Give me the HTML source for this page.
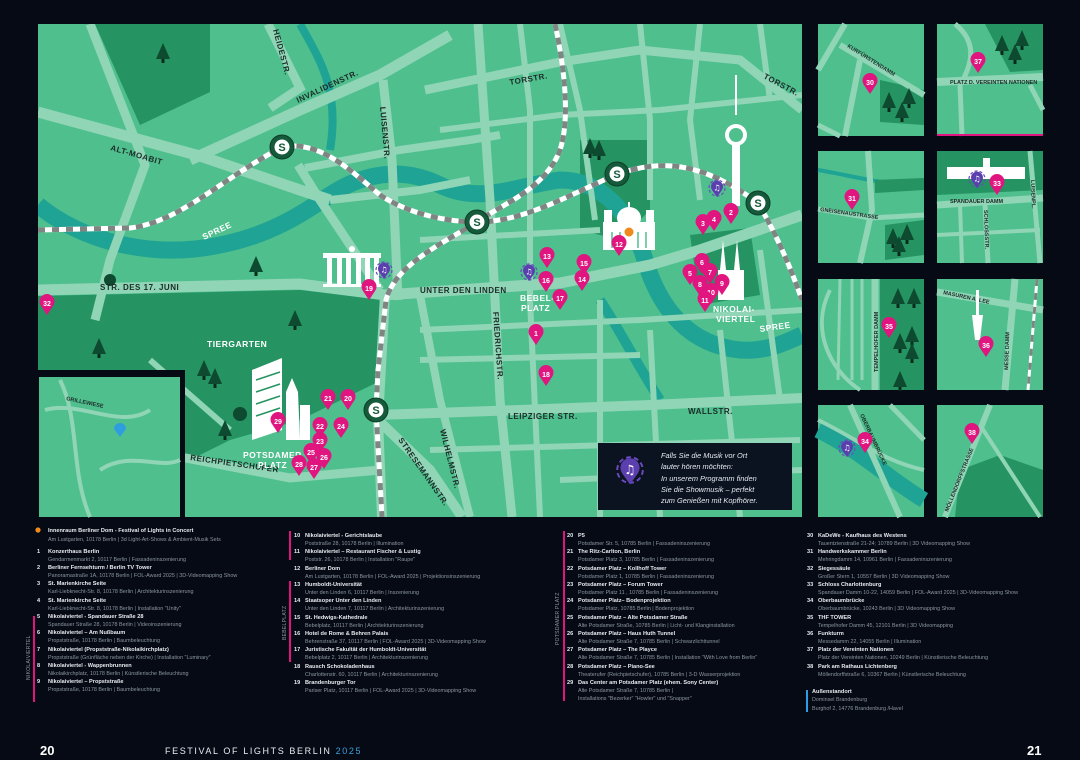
<!DOCTYPE html>
<html><head><meta charset="utf-8">
<style>
html,body{margin:0;padding:0;background:#060a14;}
svg{display:block;}
.lb{font-family:"Liberation Sans",sans-serif;font-weight:bold;font-size:8px;fill:#1d2b28;letter-spacing:0.5px;}
.wl{font-family:"Liberation Sans",sans-serif;font-weight:bold;font-size:8.5px;fill:#fff;letter-spacing:0.5px;}
.sl{font-family:"Liberation Sans",sans-serif;font-weight:bold;font-size:5.5px;fill:#1d2b28;}
.pn{font-family:"Liberation Sans",sans-serif;font-weight:bold;font-size:7px;fill:#fff;text-anchor:middle;}
.t{font-family:"Liberation Sans",sans-serif;font-weight:bold;font-size:5.6px;fill:#e8ecf0;}
.a{font-family:"Liberation Sans",sans-serif;font-size:5.4px;fill:#8c96a0;}
.vl{font-family:"Liberation Sans",sans-serif;font-size:5px;fill:#8c96a0;letter-spacing:0.3px;}
</style></head><body>
<svg width="1080" height="760" viewBox="0 0 1080 760" xmlns="http://www.w3.org/2000/svg">
<defs>
<clipPath id="cm"><rect x="38" y="24" width="764" height="493"/></clipPath>
<g id="pin"><path d="M0,12 L-6,3 A7.5,7.5 0 1,1 6,3 Z" fill="#e0157f"/></g>
<g id="mp"><circle r="8" fill="none" stroke="#6a4cc0" stroke-width="1.2" stroke-dasharray="3,2"/><path d="M0,9 L-5,2 A6,6 0 1,1 5,2 Z" fill="#5b3fae"/><text y="2.5" font-size="8" fill="#fff" text-anchor="middle" font-family="DejaVu Sans">♫</text></g>
<g id="tr"><polygon points="0,-12 -7,4 7,4" fill="#0d4a30"/><rect x="-1.5" y="4" width="3" height="4" fill="#0a2a1c"/></g>
<g id="sb"><circle r="12" fill="#155a3a" stroke="#0e3d28" stroke-width="1"/><circle r="7.5" fill="#fff"/><text y="4" font-size="11" font-weight="bold" fill="#155a3a" text-anchor="middle" font-family="Liberation Sans">S</text></g>
</defs>

<g clip-path="url(#cm)">
<rect x="38" y="24" width="764" height="493" fill="#4fbf8e"/>
<polygon points="95,24 210,24 210,92 140,125" fill="#259462"/>
<polygon points="38,296 300,290 385,300 382,380 300,420 230,440 180,465 38,440" fill="#259462"/>
<polygon points="580,140 650,140 650,210 620,240 580,230" fill="#259462"/>
<polygon points="690,235 750,228 760,295 700,305" fill="#259462"/>
<path d="M38,205 C80,240 150,260 220,245 C270,235 300,215 330,195 C360,175 400,165 440,185 C480,205 520,185 560,180 C600,180 630,210 645,260 C660,310 690,345 740,350 C770,352 790,340 802,335" fill="none" stroke="#1fa394" stroke-width="17"/>
<path d="M300,24 C320,60 340,90 330,150" fill="none" stroke="#1fa394" stroke-width="8"/>
<path d="M600,300 C620,330 640,370 660,400" fill="none" stroke="#1fa394" stroke-width="10"/>
<g fill="none" stroke="#8fd5b6" stroke-linecap="butt">
<path d="M38,112 L200,156 L300,190 L330,200" stroke-width="11"/>
<path d="M190,160 L300,110 L380,75 L450,35" stroke-width="11"/>
<path d="M268,24 L300,88 L270,108" stroke-width="9"/>
<path d="M90,24 L145,165 L110,260 L95,320" stroke-width="9"/>
<path d="M383,80 L392,160 L398,300" stroke-width="9"/>
<path d="M298,165 L320,200 L380,290" stroke-width="9"/>
<path d="M305,168 L400,150 L470,140 L500,135" stroke-width="8"/>
<path d="M330,200 L420,190 L470,180" stroke-width="8"/>
<path d="M425,90 L560,62 L640,50 L740,60 L802,110" stroke-width="9"/>
<path d="M38,290 L300,284 L385,295" stroke-width="11"/>
<path d="M385,295 L560,283 L650,265 L700,250 L802,215" stroke-width="11"/>
<path d="M478,24 L490,200 L500,400 L512,517" stroke-width="9"/>
<path d="M420,295 L440,400 L470,517" stroke-width="8"/>
<path d="M385,295 L378,420 L382,517" stroke-width="10"/>
<path d="M378,420 L430,470 L462,517" stroke-width="10"/>
<path d="M378,415 L520,410 L650,405 L802,398" stroke-width="10"/>
<path d="M170,455 L290,478 L380,470" stroke-width="9"/>
<path d="M38,440 L180,455" stroke-width="7"/>
<path d="M520,24 L530,110 L530,300 L540,517" stroke-width="6"/>
<path d="M560,24 L580,110 L595,220" stroke-width="6"/>
<path d="M640,24 L650,120 L650,200" stroke-width="6"/>
<path d="M700,24 L690,120 L700,200" stroke-width="6"/>
<path d="M760,24 L770,100" stroke-width="6"/>
<path d="M440,130 L560,115 L660,110 L802,95" stroke-width="6"/>
<path d="M420,240 L600,230" stroke-width="6"/>
<path d="M420,330 L640,320 L802,310" stroke-width="6"/>
<path d="M420,360 L640,355" stroke-width="6"/>
<path d="M430,450 L800,440" stroke-width="6"/>
<path d="M560,480 L802,470" stroke-width="6"/>
<path d="M600,300 L600,517" stroke-width="6"/>
<path d="M650,330 L660,517" stroke-width="6"/>
<path d="M720,330 L740,517" stroke-width="6"/>
<path d="M760,250 L780,400" stroke-width="6"/>
<path d="M150,360 L230,430" stroke-width="6"/>
</g>
<g fill="none" stroke-width="5">
<path d="M38,230 L130,228 C180,222 220,180 282,147 C320,140 350,170 380,195 C410,215 450,222 477,222 C520,222 560,200 617,174 C660,160 700,160 758,203 C780,240 795,280 802,300" stroke="#fff"/>
<path d="M38,230 L130,228 C180,222 220,180 282,147 C320,140 350,170 380,195 C410,215 450,222 477,222 C520,222 560,200 617,174 C660,160 700,160 758,203 C780,240 795,280 802,300" stroke="#7f8582" stroke-dasharray="7,7"/>
<path d="M555,24 C565,70 570,120 560,150 C545,190 500,205 477,222 C440,245 395,265 386,300 L378,370 L376,410 L382,517" stroke="#fff"/>
<path d="M555,24 C565,70 570,120 560,150 C545,190 500,205 477,222 C440,245 395,265 386,300 L378,370 L376,410 L382,517" stroke="#7f8582" stroke-dasharray="7,7"/>
</g>
<use href="#tr" x="163" y="55"/><use href="#tr" x="256" y="268"/><use href="#tr" x="295" y="322"/><use href="#tr" x="99" y="350"/>
<use href="#tr" x="204" y="372"/><use href="#tr" x="215" y="380"/><use href="#tr" x="225" y="432"/>
<use href="#tr" x="590" y="150"/><use href="#tr" x="599" y="152"/>
<circle cx="110" cy="280" r="6" fill="#0d4a30"/><circle cx="240" cy="414" r="7" fill="#0d4a30"/>
<g fill="#fff"><rect x="323" y="253" width="58" height="5"/><rect x="327" y="258" width="5" height="26"/><rect x="337" y="258" width="5" height="26"/><rect x="346" y="258" width="5" height="26"/><rect x="356" y="258" width="5" height="26"/><rect x="365" y="258" width="5" height="26"/><rect x="374" y="258" width="5" height="26"/><rect x="323" y="284" width="58" height="3"/><circle cx="352" cy="249" r="3"/></g>
<g fill="#fff"><polygon points="252,370 282,358 282,430 252,440"/><polygon points="286,392 292,378 298,392 300,440 286,440"/><rect x="300" y="405" width="10" height="35"/></g>
<g stroke="#259462" stroke-width="1.5"><line x1="256" y1="380" x2="280" y2="372"/><line x1="256" y1="392" x2="280" y2="384"/><line x1="256" y1="404" x2="280" y2="396"/><line x1="256" y1="416" x2="280" y2="408"/></g>
<g fill="#fff"><rect x="603" y="222" width="52" height="28"/><ellipse cx="629" cy="218" rx="12" ry="11"/><rect x="604" y="210" width="8" height="14"/><rect x="646" y="210" width="8" height="14"/><rect x="628" y="202" width="2" height="6"/></g>
<g stroke="#4fbf8e" stroke-width="1.5"><line x1="612" y1="232" x2="612" y2="248"/><line x1="620" y1="232" x2="620" y2="248"/><line x1="638" y1="232" x2="638" y2="248"/><line x1="646" y1="232" x2="646" y2="248"/></g>
<circle cx="629" cy="232" r="4.5" fill="#f08a1c"/>
<g fill="#fff"><rect x="735" y="75" width="2" height="40"/><circle cx="736" cy="135" r="11"/><rect x="732" y="140" width="8" height="66"/></g>
<circle cx="736" cy="135" r="7" fill="#4fbf8e"/>
<g fill="#fff"><polygon points="723,240 726,270 720,270"/><polygon points="737,240 740,270 734,270"/><rect x="718" y="270" width="26" height="30"/></g>
<use href="#sb" x="282" y="147"/><use href="#sb" x="477" y="222"/><use href="#sb" x="617" y="174"/><use href="#sb" x="758" y="203"/><use href="#sb" x="376" y="410"/>
<text class="lb" transform="translate(110,150) rotate(16)">ALT-MOABIT</text>
<text class="lb" transform="translate(298,103) rotate(-25)">INVALIDENSTR.</text>
<text class="lb" transform="translate(273,30) rotate(75)">HEIDESTR.</text>
<text class="lb" transform="translate(380,107) rotate(85)">LUISENSTR.</text>
<text class="lb" transform="translate(510,85) rotate(-10)">TORSTR.</text>
<text class="lb" transform="translate(763,78) rotate(28)">TORSTR.</text>
<text class="lb" x="100" y="290">STR. DES 17. JUNI</text>
<text class="lb" x="420" y="293">UNTER DEN LINDEN</text>
<text class="lb" transform="translate(493,312) rotate(86)">FRIEDRICHSTR.</text>
<text class="lb" x="508" y="419">LEIPZIGER STR.</text>
<text class="lb" x="688" y="414">WALLSTR.</text>
<text class="lb" transform="translate(440,430) rotate(76)">WILHELMSTR.</text>
<text class="lb" transform="translate(398,440) rotate(55)">STRESEMANNSTR.</text>
<text class="lb" transform="translate(190,460) rotate(8)">REICHPIETSCHUFER</text>
<text class="wl" transform="translate(204,240) rotate(-25)" font-size="7">SPREE</text>
<text class="wl" transform="translate(760,332) rotate(-8)" font-size="7">SPREE</text>
<text class="wl" x="207" y="347">TIERGARTEN</text>
<text class="wl" x="243" y="458">POTSDAMER</text><text class="wl" x="258" y="468">PLATZ</text>
<text class="wl" x="520" y="301">BEBEL-</text><text class="wl" x="521" y="311">PLATZ</text>
<text class="wl" x="713" y="312">NIKOLAI-</text><text class="wl" x="716" y="322">VIERTEL</text>
<use href="#mp" x="384" y="270"/><use href="#mp" x="529" y="272"/><use href="#mp" x="717" y="188"/>
</g>
<rect x="36" y="370" width="149" height="149" fill="#060a14"/>
<rect x="39" y="377" width="141" height="140" fill="#4fbf8e"/>
<path d="M45,410 C80,400 120,430 150,410" stroke="#8fd5b6" stroke-width="4" fill="none"/>
<path d="M60,380 C80,420 70,470 90,517" stroke="#8fd5b6" stroke-width="4" fill="none"/>
<path d="M100,470 C130,450 160,470 180,460" stroke="#8fd5b6" stroke-width="4" fill="none"/>
<text class="sl" transform="translate(66,400) rotate(12)">GRILLEWIESE</text>
<path d="M120,437 L114,429 A6,6 0 1,1 126,429 Z" fill="#2e9ee0"/>
<rect x="598" y="443" width="194" height="67" fill="#0b1220"/>
<g transform="translate(630,470) scale(1.6)"><use href="#mp"/></g>
<g font-family="Liberation Sans" font-style="italic" font-size="7.4" fill="#e6ebf0">
<text x="661" y="458">Falls Sie die Musik vor Ort</text>
<text x="661" y="469">lauter hören möchten:</text>
<text x="661" y="481">In unserem Programm finden</text>
<text x="661" y="492">Sie die Showmusik – perfekt</text>
<text x="661" y="503">zum Genießen mit Kopfhörer.</text></g>

<g>
<rect x="818" y="24" width="106" height="112" fill="#4fbf8e"/>
<polygon points="880,80 924,90 924,125 880,122" fill="#259462"/>
<path d="M818,70 L845,24" stroke="#8fd5b6" stroke-width="6"/><path d="M840,45 L924,95" stroke="#8fd5b6" stroke-width="6"/><path d="M860,60 L845,136" stroke="#8fd5b6" stroke-width="6"/><path d="M818,125 L840,136" stroke="#8fd5b6" stroke-width="5"/>
<text class="sl" transform="translate(847,47) rotate(32)">KURFÜRSTENDAMM</text>
<use href="#tr" x="889" y="104"/><use href="#tr" x="909" y="100"/><use href="#tr" x="902" y="114"/>
<rect x="937" y="24" width="106" height="112" fill="#4fbf8e"/>
<polygon points="985,24 1043,24 1043,70 1010,72" fill="#259462"/>
<path d="M937,82 L1043,77" stroke="#8fd5b6" stroke-width="8"/><path d="M955,24 C975,40 975,60 960,85 L962,136" stroke="#8fd5b6" stroke-width="5" fill="none"/><path d="M1030,85 L1043,110" stroke="#8fd5b6" stroke-width="5"/>
<text class="sl" x="950" y="84">PLATZ D. VEREINTEN NATIONEN</text>
<use href="#tr" x="1002" y="47"/><use href="#tr" x="1022" y="42"/><use href="#tr" x="1015" y="56"/>
<rect x="937" y="134" width="106" height="2" fill="#e0157f"/>
<rect x="818" y="151" width="106" height="112" fill="#4fbf8e"/>
<path d="M818,170 C850,175 880,185 924,185" stroke="#1fa394" stroke-width="4" fill="none"/>
<polygon points="875,180 924,178 924,190 875,193" fill="#259462"/>
<polygon points="885,225 924,220 924,255 885,260" fill="#259462"/>
<path d="M868,151 L872,210 L860,263" stroke="#8fd5b6" stroke-width="6" fill="none"/><path d="M818,209 L870,218 L924,215" stroke="#8fd5b6" stroke-width="5" fill="none"/>
<text class="sl" transform="translate(820,211) rotate(8)" font-size="4">GNEISENAUSTRASSE</text>
<use href="#tr" x="893" y="240"/><use href="#tr" x="907" y="236"/><use href="#tr" x="899" y="248"/>
<rect x="937" y="151" width="106" height="112" fill="#4fbf8e"/>
<polygon points="937,151 1043,151 1043,190 937,195" fill="#259462"/>
<path d="M937,205 L1043,198" stroke="#8fd5b6" stroke-width="7"/><path d="M1030,151 L1040,263" stroke="#8fd5b6" stroke-width="5"/><path d="M985,205 L988,263" stroke="#8fd5b6" stroke-width="5"/><path d="M937,235 L1040,230" stroke="#8fd5b6" stroke-width="4"/><path d="M960,205 L962,263" stroke="#8fd5b6" stroke-width="4"/>
<g fill="#fff"><rect x="947" y="167" width="78" height="12"/><rect x="983" y="158" width="7" height="12"/></g>
<text class="sl" x="950" y="203">SPANDAUER DAMM</text>
<text class="sl" transform="translate(984,210) rotate(88)">SCHLOSSSTR.</text>
<text class="sl" transform="translate(1031,180) rotate(88)">LUISENPL.</text>
<rect x="818" y="279" width="106" height="111" fill="#4fbf8e"/>
<rect x="880" y="279" width="44" height="111" fill="#259462"/>
<path d="M875,279 L875,390" stroke="#8fd5b6" stroke-width="7"/><path d="M840,279 L838,380 M852,279 L852,380 M862,279 L862,380" stroke="#8fd5b6" stroke-width="3"/><path d="M830,290 C810,330 830,370 860,390" stroke="#8fd5b6" stroke-width="4" fill="none"/>
<text class="sl" transform="translate(878,372) rotate(-90)">TEMPELHOFER DAMM</text>
<use href="#tr" x="898" y="300"/><use href="#tr" x="914" y="300"/><use href="#tr" x="912" y="338"/><use href="#tr" x="900" y="345"/><use href="#tr" x="912" y="355"/><use href="#tr" x="900" y="383"/>
<rect x="937" y="279" width="106" height="111" fill="#4fbf8e"/>
<path d="M937,292 L1043,310" stroke="#8fd5b6" stroke-width="7"/><path d="M1015,279 L1005,390" stroke="#8fd5b6" stroke-width="7"/>
<path d="M1037,279 L1028,390" stroke="#fff" stroke-width="3"/><path d="M1037,279 L1028,390" stroke="#7f8582" stroke-width="3" stroke-dasharray="7,7"/>
<text class="sl" transform="translate(943,294) rotate(12)">MASUREN ALLEE</text>
<text class="sl" transform="translate(1008,370) rotate(-88)">MESSE DAMM</text>
<g fill="#fff"><rect x="976" y="290" width="3" height="25"/><polygon points="972,315 983,315 980,340 975,340"/></g>
<rect x="818" y="405" width="106" height="112" fill="#4fbf8e"/>
<path d="M818,430 C860,450 890,480 924,500" stroke="#1fa394" stroke-width="16" fill="none"/>
<path d="M818,420 C860,440 880,460 924,470" stroke="#8fd5b6" stroke-width="4" fill="none"/>
<path d="M850,405 L900,517" stroke="#8fd5b6" stroke-width="6"/><path d="M890,405 L924,440" stroke="#8fd5b6" stroke-width="5"/>
<text class="sl" transform="translate(860,415) rotate(65)">OBERBAUMBRÜCKE</text>
<rect x="937" y="405" width="106" height="112" fill="#4fbf8e"/>
<polygon points="960,470 1000,455 1043,470 1043,517 955,517" fill="#259462"/>
<path d="M990,405 L945,517" stroke="#8fd5b6" stroke-width="6"/><path d="M980,425 L1040,517" stroke="#8fd5b6" stroke-width="4"/>
<text class="sl" transform="translate(948,512) rotate(-68)" font-size="4">MÖLLENDORFFSTRASSE</text>
<use href="#mp" x="847" y="448"/><use href="#mp" x="977" y="179"/>
</g>

<g>
<use href="#pin" x="536" y="333"/><text class="pn" x="536" y="336">1</text>
<use href="#pin" x="731" y="212"/><text class="pn" x="731" y="215">2</text>
<use href="#pin" x="703" y="223"/><text class="pn" x="703" y="226">3</text>
<use href="#pin" x="714" y="219"/><text class="pn" x="714" y="222">4</text>
<use href="#pin" x="690" y="273"/><text class="pn" x="690" y="276">5</text>
<use href="#pin" x="702" y="262"/><text class="pn" x="702" y="265">6</text>
<use href="#pin" x="710" y="272"/><text class="pn" x="710" y="275">7</text>
<use href="#pin" x="700" y="284"/><text class="pn" x="700" y="287">8</text>
<use href="#pin" x="722" y="283"/><text class="pn" x="722" y="286">9</text>
<use href="#pin" x="711" y="292"/><text class="pn" x="711" y="295">10</text>
<use href="#pin" x="705" y="300"/><text class="pn" x="705" y="303">11</text>
<use href="#pin" x="619" y="244"/><text class="pn" x="619" y="247">12</text>
<use href="#pin" x="547" y="256"/><text class="pn" x="547" y="259">13</text>
<use href="#pin" x="582" y="279"/><text class="pn" x="582" y="282">14</text>
<use href="#pin" x="584" y="263"/><text class="pn" x="584" y="266">15</text>
<use href="#pin" x="546" y="280"/><text class="pn" x="546" y="283">16</text>
<use href="#pin" x="560" y="298"/><text class="pn" x="560" y="301">17</text>
<use href="#pin" x="546" y="374"/><text class="pn" x="546" y="377">18</text>
<use href="#pin" x="369" y="288"/><text class="pn" x="369" y="291">19</text>
<use href="#pin" x="348" y="398"/><text class="pn" x="348" y="401">20</text>
<use href="#pin" x="328" y="398"/><text class="pn" x="328" y="401">21</text>
<use href="#pin" x="320" y="426"/><text class="pn" x="320" y="429">22</text>
<use href="#pin" x="320" y="441"/><text class="pn" x="320" y="444">23</text>
<use href="#pin" x="341" y="426"/><text class="pn" x="341" y="429">24</text>
<use href="#pin" x="311" y="452"/><text class="pn" x="311" y="455">25</text>
<use href="#pin" x="324" y="457"/><text class="pn" x="324" y="460">26</text>
<use href="#pin" x="314" y="467"/><text class="pn" x="314" y="470">27</text>
<use href="#pin" x="299" y="464"/><text class="pn" x="299" y="467">28</text>
<use href="#pin" x="278" y="421"/><text class="pn" x="278" y="424">29</text>
<use href="#pin" x="870" y="82"/><text class="pn" x="870" y="85">30</text>
<use href="#pin" x="852" y="198"/><text class="pn" x="852" y="201">31</text>
<use href="#pin" x="47" y="303"/><text class="pn" x="47" y="306">32</text>
<use href="#pin" x="997" y="183"/><text class="pn" x="997" y="186">33</text>
<use href="#pin" x="865" y="441"/><text class="pn" x="865" y="444">34</text>
<use href="#pin" x="889" y="326"/><text class="pn" x="889" y="329">35</text>
<use href="#pin" x="986" y="345"/><text class="pn" x="986" y="348">36</text>
<use href="#pin" x="978" y="61"/><text class="pn" x="978" y="64">37</text>
<use href="#pin" x="972" y="432"/><text class="pn" x="972" y="435">38</text>
</g>

<rect x="33" y="616" width="2" height="86" fill="#e0157f"/>
<text class="vl" transform="translate(30,680) rotate(-90)">NIKOLAIVIERTEL</text>
<rect x="289" y="531" width="2" height="29" fill="#e0157f"/>
<rect x="289" y="581" width="2" height="81" fill="#e0157f"/>
<text class="vl" transform="translate(286,640) rotate(-90)">BEBELPLATZ</text>
<rect x="563" y="531" width="2" height="170" fill="#e0157f"/>
<text class="vl" transform="translate(559,645) rotate(-90)">POTSDAMER PLATZ</text>
<rect x="806" y="690" width="2" height="22" fill="#2e9ee0"/>
<circle cx="38" cy="530" r="2.6" fill="#f08a1c"/>
<g>
<text class="t" x="48" y="532">Innenraum Berliner Dom - Festival of Lights in Concert</text><text class="a" x="48" y="541">Am Lustgarten, 10178 Berlin | 3d Light-Art-Shows &amp; Ambient-Musik Sets</text>
<text class="t" x="37" y="553">1</text><text class="t" x="48" y="553">Konzerthaus Berlin</text><text class="a" x="48" y="561">Gendarmenmarkt 2, 10117 Berlin | Fassadeninszenierung</text>
<text class="t" x="37" y="569">2</text><text class="t" x="48" y="569">Berliner Fernsehturm / Berlin TV Tower</text><text class="a" x="48" y="577">Panoramastraße 1A, 10178 Berlin | FOL-Award 2025 | 3D-Videomapping Show</text>
<text class="t" x="37" y="585">3</text><text class="t" x="48" y="585">St. Marienkirche Seite</text><text class="a" x="48" y="593">Karl-Liebknecht-Str. 8, 10178 Berlin | Architekturinszenierung</text>
<text class="t" x="37" y="602">4</text><text class="t" x="48" y="602">St. Marienkirche Seite</text><text class="a" x="48" y="610">Karl-Liebknecht-Str. 8, 10178 Berlin | Installation "Unity"</text>
<text class="t" x="37" y="618">5</text><text class="t" x="48" y="618">Nikolaiviertel - Spandauer Straße 28</text><text class="a" x="48" y="626">Spandauer Straße 28, 10178 Berlin | Videoinszenierung</text>
<text class="t" x="37" y="634">6</text><text class="t" x="48" y="634">Nikolaiviertel – Am Nußbaum</text><text class="a" x="48" y="642">Propststraße, 10178 Berlin | Baumbeleuchtung</text>
<text class="t" x="37" y="651">7</text><text class="t" x="48" y="651">Nikolaiviertel (Propststraße-Nikolaikirchplatz)</text><text class="a" x="48" y="659">Propststraße (Grünfläche neben der Kirche) | Installation "Luminary"</text>
<text class="t" x="37" y="667">8</text><text class="t" x="48" y="667">Nikolaiviertel - Wappenbrunnen</text><text class="a" x="48" y="675">Nikolaikirchplatz, 10178 Berlin | Künstlerische Beleuchtung</text>
<text class="t" x="37" y="683">9</text><text class="t" x="48" y="683">Nikolaiviertel – Propststraße</text><text class="a" x="48" y="691">Propststraße, 10178 Berlin | Baumbeleuchtung</text>
</g>
<g>
<text class="t" x="294" y="537">10</text><text class="t" x="305" y="537">Nikolaiviertel - Gerichtslaube</text><text class="a" x="305" y="545">Poststraße 28, 10178 Berlin | Illumination</text>
<text class="t" x="294" y="553">11</text><text class="t" x="305" y="553">Nikolaiviertel – Restaurant Fischer &amp; Lustig</text><text class="a" x="305" y="561">Poststr. 26, 10178 Berlin | Installation "Raupe"</text>
<text class="t" x="294" y="570">12</text><text class="t" x="305" y="570">Berliner Dom</text><text class="a" x="305" y="578">Am Lustgarten, 10178 Berlin | FOL-Award 2025 | Projektionsinszenierung</text>
<text class="t" x="294" y="586">13</text><text class="t" x="305" y="586">Humboldt-Universität</text><text class="a" x="305" y="594">Unter den Linden 6, 10117 Berlin | Inszenierung</text>
<text class="t" x="294" y="602">14</text><text class="t" x="305" y="602">Staatsoper Unter den Linden</text><text class="a" x="305" y="610">Unter den Linden 7, 10117 Berlin | Architekturinszenierung</text>
<text class="t" x="294" y="619">15</text><text class="t" x="305" y="619">St. Hedwigs-Kathedrale</text><text class="a" x="305" y="627">Bebelplatz, 10117 Berlin | Architekturinszenierung</text>
<text class="t" x="294" y="635">16</text><text class="t" x="305" y="635">Hotel de Rome &amp; Behren Palais</text><text class="a" x="305" y="643">Behrenstraße 37, 10117 Berlin | FOL-Award 2025 | 3D-Videomapping Show</text>
<text class="t" x="294" y="651">17</text><text class="t" x="305" y="651">Juristische Fakultät der Humboldt-Universität</text><text class="a" x="305" y="659">Bebelplatz 2, 10117 Berlin | Architekturinszenierung</text>
<text class="t" x="294" y="668">18</text><text class="t" x="305" y="668">Rausch Schokoladenhaus</text><text class="a" x="305" y="676">Charlottenstr. 60, 10117 Berlin | Architekturinszenierung</text>
<text class="t" x="294" y="684">19</text><text class="t" x="305" y="684">Brandenburger Tor</text><text class="a" x="305" y="692">Pariser Platz, 10117 Berlin | FOL-Award 2025 | 3D-Videomapping Show</text>
</g>
<g>
<text class="t" x="567" y="537">20</text><text class="t" x="578" y="537">P5</text><text class="a" x="578" y="545">Potsdamer Str. 5, 10785 Berlin | Fassadeninszenierung</text>
<text class="t" x="567" y="553">21</text><text class="t" x="578" y="553">The Ritz-Carlton, Berlin</text><text class="a" x="578" y="561">Potsdamer Platz 3, 10785 Berlin | Fassadeninszenierung</text>
<text class="t" x="567" y="570">22</text><text class="t" x="578" y="570">Potsdamer Platz – Kollhoff Tower</text><text class="a" x="578" y="578">Potsdamer Platz 1, 10785 Berlin | Fassadeninszenierung</text>
<text class="t" x="567" y="586">23</text><text class="t" x="578" y="586">Potsdamer Platz – Forum Tower</text><text class="a" x="578" y="594">Potsdamer Platz 11 , 10785 Berlin | Fassadeninszenierung</text>
<text class="t" x="567" y="602">24</text><text class="t" x="578" y="602">Potsdamer Platz– Bodenprojektion</text><text class="a" x="578" y="610">Potsdamer Platz, 10785 Berlin | Bodenprojektion</text>
<text class="t" x="567" y="619">25</text><text class="t" x="578" y="619">Potsdamer Platz – Alte Potsdamer Straße</text><text class="a" x="578" y="627">Alte Potsdamer Straße, 10785 Berlin | Licht- und Klanginstallation</text>
<text class="t" x="567" y="635">26</text><text class="t" x="578" y="635">Potsdamer Platz – Haus Huth Tunnel</text><text class="a" x="578" y="643">Alte Potsdamer Straße 7, 10785 Berlin | Schwarzlichttunnel</text>
<text class="t" x="567" y="651">27</text><text class="t" x="578" y="651">Potsdamer Platz – The Playce</text><text class="a" x="578" y="659">Alte Potsdamer Straße 7, 10785 Berlin | Installation "With Love from Berlin"</text>
<text class="t" x="567" y="668">28</text><text class="t" x="578" y="668">Potsdamer Platz – Piano-See</text><text class="a" x="578" y="676">Theaterufer (Reichpietschufer), 10785 Berlin | 3-D Wasserprojektion</text>
<text class="t" x="567" y="684">29</text><text class="t" x="578" y="684">Das Center am Potsdamer Platz (ehem. Sony Center)</text><text class="a" x="578" y="692">Alte Potsdamer Straße 7, 10785 Berlin |</text><text class="a" x="578" y="700">Installations "Bezerker" "Howler" und "Snapper"</text>
</g>
<g>
<text class="t" x="807" y="537">30</text><text class="t" x="818" y="537">KaDeWe - Kaufhaus des Westens</text><text class="a" x="818" y="545">Tauentzienstraße 21-24; 10789 Berlin | 3D Videomapping Show</text>
<text class="t" x="807" y="553">31</text><text class="t" x="818" y="553">Handwerkskammer Berlin</text><text class="a" x="818" y="561">Mehringdamm 14, 10961 Berlin | Fassadeninszenierung</text>
<text class="t" x="807" y="570">32</text><text class="t" x="818" y="570">Siegessäule</text><text class="a" x="818" y="578">Großer Stern 1, 10557 Berlin | 3D Videomapping Show</text>
<text class="t" x="807" y="586">33</text><text class="t" x="818" y="586">Schloss Charlottenburg</text><text class="a" x="818" y="594">Spandauer Damm 10-22, 14059 Berlin | FOL-Award 2025 | 3D-Videomapping Show</text>
<text class="t" x="807" y="602">34</text><text class="t" x="818" y="602">Oberbaumbrücke</text><text class="a" x="818" y="610">Oberbaumbrücke, 10243 Berlin | 3D Videomapping Show</text>
<text class="t" x="807" y="619">35</text><text class="t" x="818" y="619">THF TOWER</text><text class="a" x="818" y="627">Tempelhofer Damm 45, 12101 Berlin | 3D Videomapping</text>
<text class="t" x="807" y="635">36</text><text class="t" x="818" y="635">Funkturm</text><text class="a" x="818" y="643">Messedamm 22, 14055 Berlin | Illumination</text>
<text class="t" x="807" y="651">37</text><text class="t" x="818" y="651">Platz der Vereinten Nationen</text><text class="a" x="818" y="659">Platz der Vereinten Nationen, 10249 Berlin | Künstlerische Beleuchtung</text>
<text class="t" x="807" y="668">38</text><text class="t" x="818" y="668">Park am Rathaus Lichtenberg</text><text class="a" x="818" y="676">Möllendorffstraße 6, 10367 Berlin | Künstlerische Beleuchtung</text>
<text class="t" x="812" y="693">Außenstandort</text><text class="a" x="812" y="701">Dominsel Brandenburg</text><text class="a" x="812" y="710">Burghof 2, 14776 Brandenburg /Havel</text>
</g>
<text x="40" y="755" font-family="Liberation Sans" font-weight="bold" font-size="13" fill="#fff">20</text>
<text x="165" y="754" font-family="Liberation Sans" font-size="9" fill="#e8ecf0" letter-spacing="1.6">FESTIVAL OF LIGHTS BERLIN <tspan fill="#3aa0e0">2025</tspan></text>
<text x="1027" y="755" font-family="Liberation Sans" font-weight="bold" font-size="13" fill="#fff">21</text>
</svg>
</body></html>
